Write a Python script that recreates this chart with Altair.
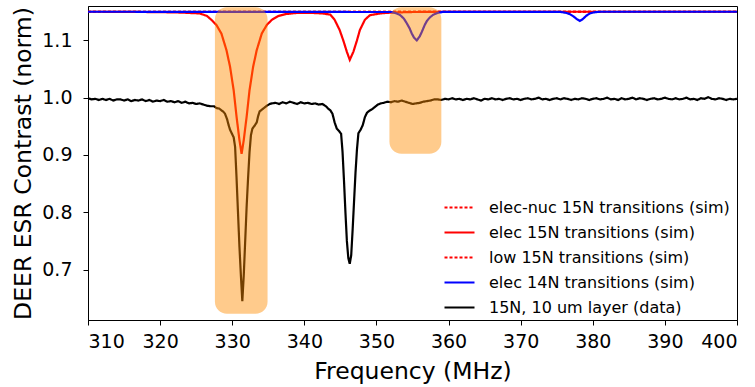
import altair as alt
import pandas as pd

# ---------------- data ----------------
# measured DEER ESR contrast (black)
data_freq = [310, 310.5, 311, 311.5, 312, 312.5, 313, 313.5, 314, 314.5, 315, 315.5, 316, 316.5,
             317, 317.5, 318, 318.5, 319, 319.5, 320, 320.5, 321, 321.5, 322, 322.5, 323, 323.5,
             324, 324.5, 325, 325.5, 326, 326.5, 327,
             327.5, 327.8, 328.2, 328.5, 328.8, 329.0, 329.3, 329.5, 329.7, 330.0, 330.2, 330.4,
             330.6, 330.8, 331.0, 331.2, 331.4, 331.6, 331.8, 332.0, 332.2, 332.4, 332.6, 332.8,
             333.1, 333.4, 333.6, 333.8, 334.1, 334.4, 334.8, 335.2, 335.5,
             336, 336.5, 337, 337.5, 338, 338.5, 339, 339.5, 340, 340.5, 341, 341.5, 342, 342.5,
             343.0, 343.3, 343.6, 343.9, 344.2, 344.5, 344.8, 345.1, 345.3, 345.5, 345.7, 345.9,
             346.1, 346.3, 346.5, 346.7, 346.9, 347.1, 347.3, 347.5, 347.8, 348.1, 348.4, 348.7,
             349.0, 349.4, 349.8, 350.2, 350.6, 351.0, 351.5, 352.0,
             352.5, 353, 353.5, 354, 354.5, 355, 355.5, 356, 356.5, 357, 357.5, 358, 358.5, 359,
             359.5, 360, 360.5, 361, 361.5, 362, 362.5, 363, 363.5, 364, 364.5, 365, 365.5, 366,
             366.5, 367, 367.5, 368, 368.5, 369, 369.5, 370, 370.5, 371, 371.5, 372, 372.5, 373,
             373.5, 374, 374.5, 375, 375.5, 376, 376.5, 377, 377.5, 378, 378.5, 379, 379.5, 380,
             380.5, 381, 381.5, 382, 382.5, 383, 383.5, 384, 384.5, 385, 385.5, 386, 386.5, 387,
             387.5, 388, 388.5, 389, 389.5, 390, 390.5, 391, 391.5, 392, 392.5, 393, 393.5, 394,
             394.5, 395, 395.5, 396, 396.5, 397, 397.5, 398, 398.5, 399, 399.5, 400]
data_val = [0.999, 0.997, 0.998, 0.996, 0.998, 0.996, 0.998, 0.995, 0.997, 0.997, 0.995, 0.997,
            0.994, 0.996, 0.995, 0.997, 0.994, 0.996, 0.993, 0.995, 0.994, 0.996, 0.993, 0.994,
            0.992, 0.994, 0.991, 0.993, 0.990, 0.991, 0.989, 0.990, 0.988, 0.986, 0.985,
            0.985, 0.982, 0.981, 0.978, 0.975, 0.972, 0.962, 0.952, 0.944, 0.936, 0.931, 0.914,
            0.860, 0.800, 0.740, 0.690, 0.645, 0.690, 0.750, 0.810, 0.860, 0.905, 0.935, 0.946,
            0.951, 0.957, 0.968, 0.976, 0.979, 0.982, 0.986, 0.989, 0.990,
            0.991, 0.989, 0.992, 0.990, 0.993, 0.991, 0.989, 0.992, 0.990, 0.991, 0.989, 0.990,
            0.988, 0.989,
            0.985, 0.981, 0.978, 0.972, 0.957, 0.946, 0.942, 0.937, 0.905, 0.855, 0.800, 0.750,
            0.720, 0.710, 0.725, 0.770, 0.820, 0.870, 0.910, 0.938, 0.944, 0.952, 0.966, 0.974,
            0.977, 0.980, 0.984, 0.988, 0.990, 0.991, 0.993, 0.992,
            0.994, 0.993, 0.995, 0.993, 0.991, 0.989, 0.990, 0.991, 0.993, 0.994, 0.995, 0.997,
            0.997, 0.996, 0.998,
            0.997, 0.999, 0.997, 0.998, 0.996, 0.998, 0.997, 0.999, 0.997, 0.995, 0.998, 0.997,
            0.999, 0.997, 0.998, 0.996, 0.998, 0.999, 0.997, 0.998, 0.996, 0.998, 0.999, 0.997,
            0.998, 1.000, 0.997, 0.998, 0.996, 0.998, 0.999, 0.997, 0.999, 0.998, 0.996, 0.998,
            0.997, 0.999, 0.998, 0.996, 0.998, 0.999, 0.997, 0.998, 1.000, 0.997, 0.998, 0.996,
            0.999, 0.997, 0.998, 1.000, 0.997, 0.999, 0.998, 0.996, 0.998, 0.999, 0.997, 0.998,
            1.000, 0.998, 0.997, 0.999, 0.997, 0.998, 1.000, 0.997, 0.998, 0.996, 0.999, 0.998,
            1.001, 0.998, 0.997, 0.999, 0.998, 0.996, 0.998, 0.997, 0.998]

# simulated elec 15N transitions (solid red)
red_freq = [310, 315, 320, 323, 325.5, 326.5, 327.1, 327.8, 328.5, 329.2, 329.7, 330.2, 330.6,
            331.0, 331.3, 331.6, 332.0, 332.4, 332.9, 333.4, 334.1, 334.8, 335.5, 336.4, 337.5,
            339, 341, 342.5, 343.6, 344.2, 344.9, 345.4, 345.9, 346.3, 346.8, 347.3, 347.7,
            348.4, 349.1, 350.5, 352, 355, 360, 400]
red_val = [1.1500, 1.1498, 1.1493, 1.1485, 1.147, 1.1426, 1.136, 1.127, 1.112, 1.083, 1.054,
           1.013, 0.967, 0.926, 0.902, 0.926, 0.967, 1.013, 1.054, 1.083, 1.112, 1.127, 1.136,
           1.1426, 1.146, 1.148, 1.148, 1.147, 1.145, 1.136, 1.118, 1.100, 1.080, 1.066, 1.080,
           1.100, 1.118, 1.136, 1.144, 1.147, 1.1485, 1.1495, 1.1500, 1.1500]

# simulated elec 14N transitions (blue)
blue_freq = [310, 352.1, 352.8, 353.3, 353.8, 354.2, 354.6, 354.9, 355.2, 355.6, 356.0, 356.3,
             356.7, 357.0, 357.4, 357.9, 358.5, 359.2, 375.5, 376.3, 376.8, 377.3, 377.8, 378.2,
             378.6, 379.1, 379.6, 380.2, 381, 400]
blue_val = [1.1500, 1.1495, 1.147, 1.144, 1.138, 1.130, 1.121, 1.112, 1.105, 1.100, 1.107, 1.115,
            1.127, 1.134, 1.140, 1.145, 1.148, 1.1498, 1.1498, 1.148, 1.146, 1.142, 1.137, 1.134,
            1.137, 1.143, 1.147, 1.149, 1.1500, 1.1500]

# simulated elec-nuc and low 15N transitions (dotted red, flat in view)
nuc_freq = [310, 400]
nuc_val = [1.1500, 1.1500]
low_freq = [310, 400]
low_val = [1.1500, 1.1500]

# highlighted frequency windows
box_start = [327.6, 351.8]
box_end = [334.9, 359.0]
box_bottom = [0.623, 0.902]
box_top = [1.158, 1.158]

series_names = ["elec-nuc 15N transitions (sim)", "elec 15N transitions (sim)",
                "low 15N transitions (sim)", "elec 14N transitions (sim)",
                "15N, 10 um layer (data)"]
series_colors = ["#ff0000", "#ff0000", "#ff0000", "#0000ff", "#000000"]
series_dashes = [[3, 2], [1, 0], [3, 2], [1, 0], [1, 0]]

# ---------------- chart ----------------
FONT = "DejaVu Sans"
XDOM = [310, 400]
YDOM = [0.612, 1.160]


def frame(freq, val, name):
    return pd.DataFrame({"freq": freq, "val": val, "series": name})


color_scale = alt.Scale(domain=series_names, range=series_colors)
dash_scale = alt.Scale(domain=series_names, range=series_dashes)

x_enc = alt.X("freq:Q", scale=alt.Scale(domain=XDOM, nice=False, zero=False),
              axis=alt.Axis(values=list(range(310, 401, 10)), title="Frequency (MHz)"))
y_enc = alt.Y("val:Q", scale=alt.Scale(domain=YDOM, nice=False, zero=False),
              axis=alt.Axis(values=[0.7, 0.8, 0.9, 1.0, 1.1], format=".1f",
                            title="DEER ESR Contrast (norm)"))

legend = alt.Legend(title=None, orient="none", legendX=355, legendY=185,
                    symbolType="stroke", symbolSize=900, symbolStrokeWidth=2.2,
                    labelFontSize=16, labelFont=FONT, labelColor="black", labelLimit=0,
                    labelOffset=13, rowPadding=-5.5, padding=0)


def line_layer(freq, val, name):
    return alt.Chart(frame(freq, val, name)).mark_line(strokeWidth=2.2, clip=True).encode(
        x=x_enc, y=y_enc,
        color=alt.Color("series:N", scale=color_scale, legend=legend),
        strokeDash=alt.StrokeDash("series:N", scale=dash_scale, legend=legend),
        order=alt.Order("freq:Q"),
    )


boxes = pd.DataFrame({"x0": box_start, "x1": box_end, "y0": box_bottom, "y1": box_top})
box_layer = alt.Chart(boxes).mark_rect(color="#ff8c00", opacity=0.45, cornerRadius=12).encode(
    x="x0:Q", x2="x1:Q", y="y0:Q", y2="y1:Q")

chart = alt.layer(
    line_layer(nuc_freq, nuc_val, series_names[0]),
    line_layer(red_freq, red_val, series_names[1]),
    line_layer(low_freq, low_val, series_names[2]),
    line_layer(blue_freq, blue_val, series_names[3]),
    line_layer(data_freq, data_val, series_names[4]),
    box_layer,
).properties(
    width=649, height=314,
    autosize=alt.AutoSizeParams(type="none"),
    padding={"left": 88, "top": 6, "right": 18, "bottom": 67},
).configure_view(
    stroke="black", strokeWidth=1
).configure_axis(
    labelFont=FONT, titleFont=FONT, labelFontSize=19, titleFontSize=23.5,
    titleFontWeight="normal", labelColor="black", titleColor="black",
    domainColor="black", tickColor="black", tickSize=5, tickWidth=1, domainWidth=1,
    grid=False,
).configure_axisX(
    labelPadding=7, titlePadding=8,
).configure_axisY(
    labelPadding=11, titlePadding=6,
)

chart.save("out.html", embed_options={"renderer": "svg", "actions": False})
